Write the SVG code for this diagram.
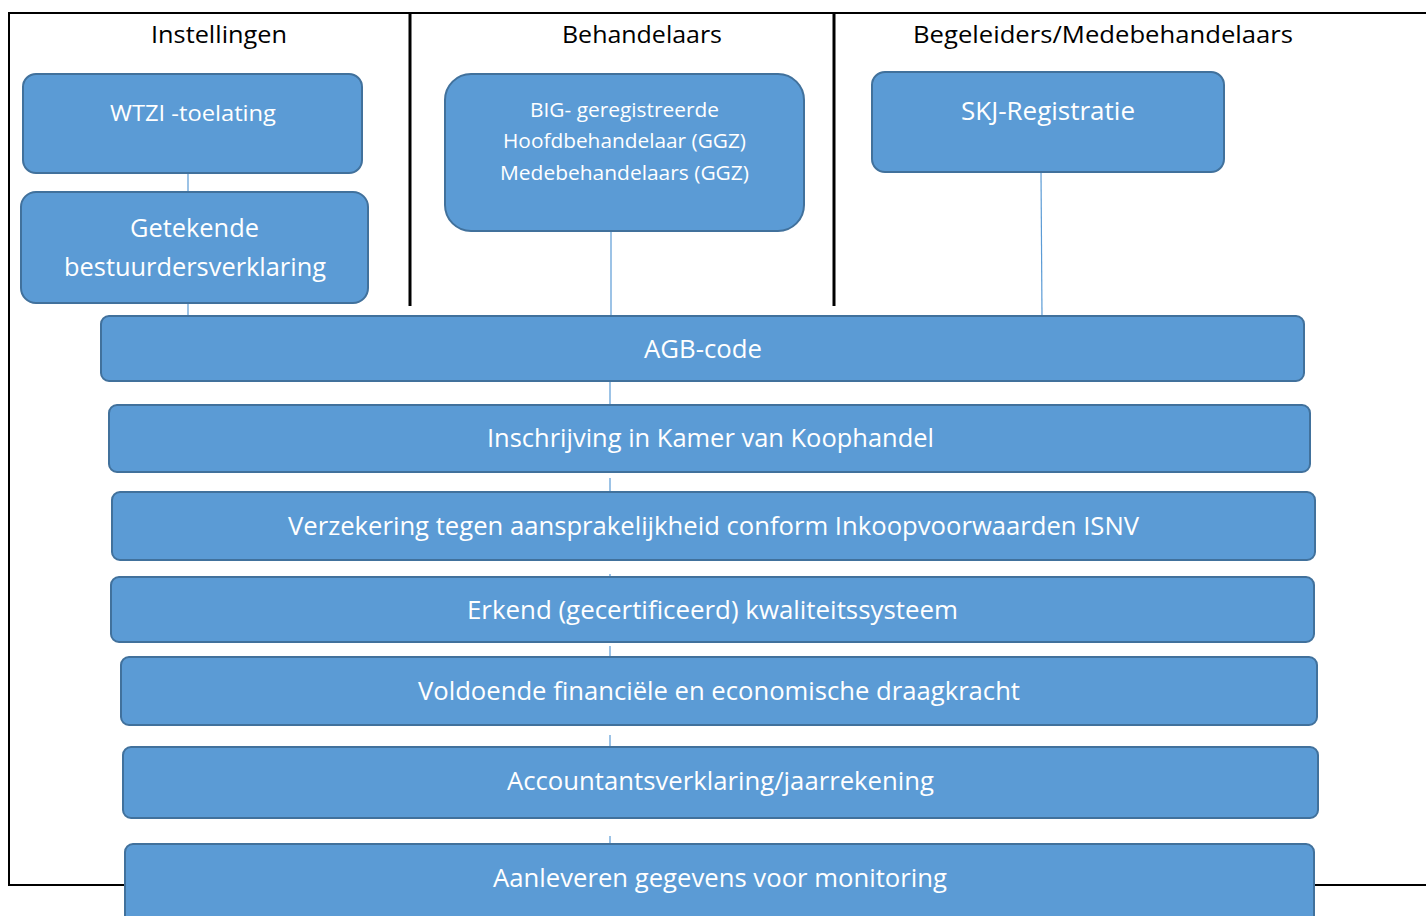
<svg xmlns="http://www.w3.org/2000/svg" width="1426" height="916" viewBox="0 0 1426 916">
<style>
.frame{fill:none;stroke:#000;stroke-width:2}
.div{stroke:#000;stroke-width:3}
.box{fill:#5B9BD5;stroke:#41719C;stroke-width:2}
.conn{stroke:#5B9BD5;stroke-width:1.2}
.hdr{font-family:"Open Sans","Liberation Sans",sans-serif;font-size:24px;fill:#000}
.t{font-family:"Open Sans","Liberation Sans",sans-serif;fill:#fff}
</style>
<rect width="1426" height="916" fill="#fff"/>
<g id="frame">
<polyline class="frame" points="1427,13 9,13 9,885 1427,885"/>
<line class="div" x1="410" y1="14" x2="410" y2="306"/>
<line class="div" x1="834" y1="14" x2="834" y2="306"/>
<text class="hdr" x="151" y="43" textLength="136" lengthAdjust="spacingAndGlyphs">Instellingen</text>
<text class="hdr" x="562" y="43" textLength="160" lengthAdjust="spacingAndGlyphs">Behandelaars</text>
<text class="hdr" x="913" y="43" textLength="380" lengthAdjust="spacingAndGlyphs">Begeleiders/Medebehandelaars</text>
</g>
<g id="connectors">
<line class="conn" x1="188" y1="173" x2="188" y2="192"/>
<line class="conn" x1="188" y1="303" x2="188" y2="316"/>
<line class="conn" x1="611" y1="231" x2="611" y2="316"/>
<line class="conn" x1="1041" y1="172" x2="1042" y2="316"/>
<line class="conn" x1="610" y1="381" x2="610" y2="405"/>
<line class="conn" x1="610" y1="478" x2="610" y2="492"/>
<line class="conn" x1="610" y1="574" x2="610" y2="577"/>
<line class="conn" x1="610" y1="646" x2="610" y2="657"/>
<line class="conn" x1="610" y1="735" x2="610" y2="747"/>
<line class="conn" x1="610" y1="836" x2="610" y2="844"/>
</g>
<g id="wtzi">
<rect class="box" x="23" y="74" width="339" height="99" rx="13"/>
<text class="t" x="110" y="121" font-size="22" textLength="166" lengthAdjust="spacingAndGlyphs">WTZI -toelating</text>
</g>
<g id="getekende">
<rect class="box" x="21" y="192" width="347" height="111" rx="15"/>
<text class="t" x="130" y="237" font-size="25" textLength="129" lengthAdjust="spacingAndGlyphs">Getekende</text>
<text class="t" x="64" y="276" font-size="25" textLength="262" lengthAdjust="spacingAndGlyphs">bestuurdersverklaring</text>
</g>
<g id="big">
<rect class="box" x="445" y="74" width="359" height="157" rx="26"/>
<text class="t" x="530" y="117" font-size="20" textLength="189" lengthAdjust="spacingAndGlyphs">BIG- geregistreerde</text>
<text class="t" x="503" y="148" font-size="20" textLength="243" lengthAdjust="spacingAndGlyphs">Hoofdbehandelaar (GGZ)</text>
<text class="t" x="500" y="180" font-size="20" textLength="249" lengthAdjust="spacingAndGlyphs">Medebehandelaars (GGZ)</text>
</g>
<g id="skj">
<rect class="box" x="872" y="72" width="352" height="100" rx="13"/>
<text class="t" x="961" y="120" font-size="25" textLength="174" lengthAdjust="spacingAndGlyphs">SKJ-Registratie</text>
</g>
<g id="agb">
<rect class="box" x="101" y="316" width="1203" height="65" rx="8"/>
<text class="t" x="644" y="358" font-size="26" textLength="118" lengthAdjust="spacingAndGlyphs">AGB-code</text>
</g>
<g id="kvk">
<rect class="box" x="109" y="405" width="1201" height="67" rx="8"/>
<text class="t" x="487" y="447" font-size="26" textLength="447" lengthAdjust="spacingAndGlyphs">Inschrijving in Kamer van Koophandel</text>
</g>
<g id="verzekering">
<rect class="box" x="112" y="492" width="1203" height="68" rx="8"/>
<text class="t" x="288" y="535" font-size="26" textLength="851" lengthAdjust="spacingAndGlyphs">Verzekering tegen aansprakelijkheid conform Inkoopvoorwaarden ISNV</text>
</g>
<g id="kwaliteit">
<rect class="box" x="111" y="577" width="1203" height="65" rx="8"/>
<text class="t" x="467" y="619" font-size="26" textLength="491" lengthAdjust="spacingAndGlyphs">Erkend (gecertificeerd) kwaliteitssysteem</text>
</g>
<g id="financieel">
<rect class="box" x="121" y="657" width="1196" height="68" rx="8"/>
<text class="t" x="418" y="700" font-size="26" textLength="602" lengthAdjust="spacingAndGlyphs">Voldoende financiële en economische draagkracht</text>
</g>
<g id="accountant">
<rect class="box" x="123" y="747" width="1195" height="71" rx="8"/>
<text class="t" x="507" y="790" font-size="26" textLength="427" lengthAdjust="spacingAndGlyphs">Accountantsverklaring/jaarrekening</text>
</g>
<g id="monitoring">
<rect class="box" x="125" y="844" width="1189" height="90" rx="8"/>
<text class="t" x="493" y="887" font-size="26" textLength="454" lengthAdjust="spacingAndGlyphs">Aanleveren gegevens voor monitoring</text>
</g>
</svg>
